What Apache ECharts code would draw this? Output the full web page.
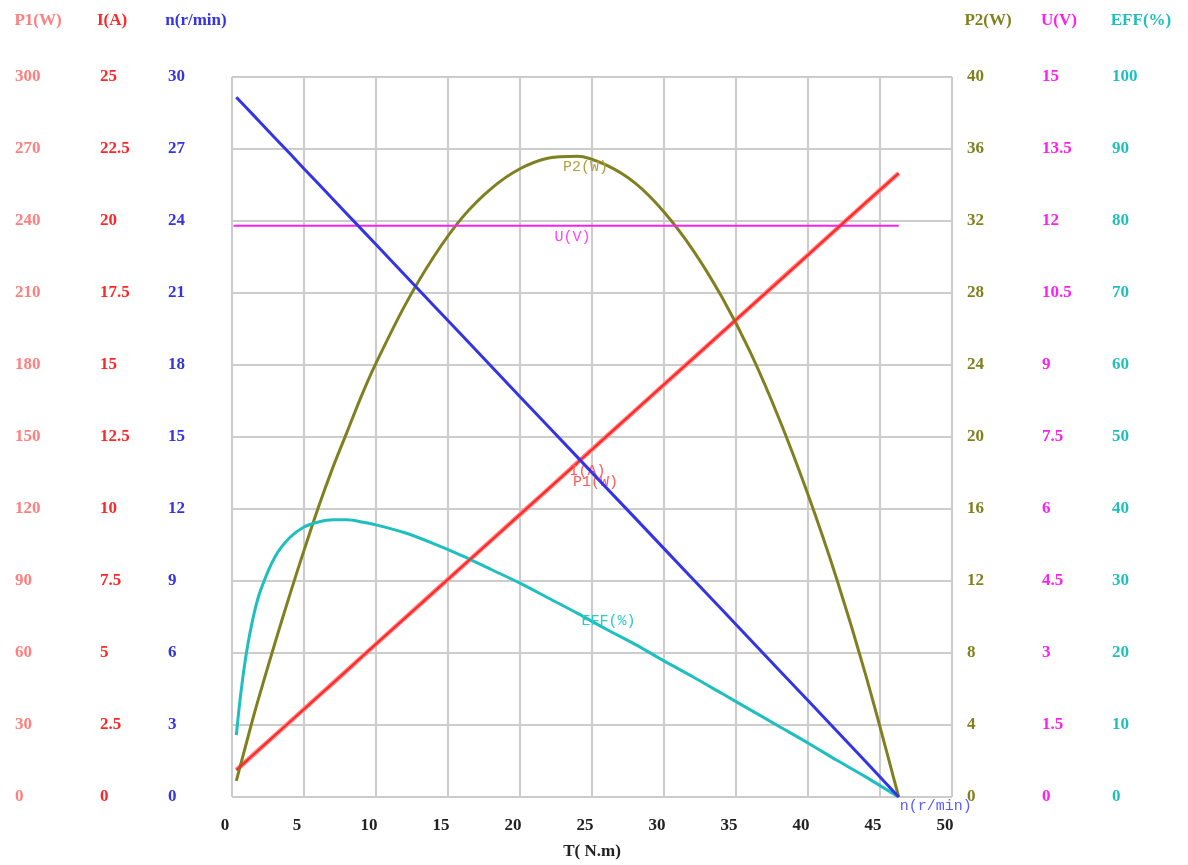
<!DOCTYPE html>
<html>
<head>
<meta charset="utf-8">
<script src="https://cdn.jsdelivr.net/npm/echarts@6/dist/echarts.min.js"></script>
<style>html,body{margin:0;padding:0;background:#fff}#c{width:1188px;height:865px}</style>
</head>
<body>
<div id="c"></div>
<script>
// ---- data ----
const torque = [0.3, 0.6, 1, 1.5, 2, 3, 4, 5, 6, 7, 8, 9, 10, 12, 14, 16, 18, 20, 22, 24, 26, 28, 30, 32, 34, 36, 38, 40, 42, 44, 46.3];
const speedN = [29.16, 28.97, 28.72, 28.40, 28.08, 27.45, 26.82, 26.18, 25.55, 24.92, 24.28, 23.65, 23.02, 21.75, 20.48, 19.22, 17.95, 16.68, 15.42, 14.15, 12.88, 11.62, 10.35, 9.08, 7.82, 6.55, 5.28, 4.02, 2.75, 1.48, 0];
const currentI = [0.94, 1.07, 1.25, 1.48, 1.70, 2.15, 2.60, 3.05, 3.50, 3.95, 4.40, 4.86, 5.31, 6.21, 7.11, 8.01, 8.91, 9.81, 10.71, 11.61, 12.52, 13.42, 14.32, 15.22, 16.12, 17.02, 17.92, 18.82, 19.73, 20.63, 21.66];
const powerP1 = [11.3, 12.8, 15.0, 17.7, 20.4, 25.8, 31.2, 36.6, 42.0, 47.4, 52.8, 58.3, 63.7, 74.5, 85.3, 96.1, 106.9, 117.7, 128.5, 139.4, 150.2, 161.0, 171.8, 182.6, 193.4, 204.2, 215.1, 225.9, 236.7, 247.5, 259.9];
const powerP2 = [0.9, 1.8, 3.0, 4.5, 5.9, 8.6, 11.2, 13.7, 16.1, 18.3, 20.3, 22.3, 24.1, 27.3, 30.0, 32.2, 33.8, 34.9, 35.5, 35.6, 35.1, 34.1, 32.5, 30.4, 27.8, 24.7, 21.0, 16.8, 12.1, 6.8, 0];
const efficiency = [8.6, 14.2, 20.0, 25.2, 28.8, 33.4, 36.0, 37.5, 38.2, 38.5, 38.5, 38.2, 37.8, 36.7, 35.2, 33.5, 31.6, 29.7, 27.6, 25.5, 23.3, 21.2, 18.9, 16.7, 14.4, 12.1, 9.8, 7.5, 5.1, 2.8, 0];
const voltageTorque = [0.1, 46.3];
const voltageU = [11.9, 11.9];

const xTicks = {min: 0, max: 50, interval: 5};
const axisNames = ['P1(W)', 'I(A)', 'n(r/min)', 'P2(W)', 'U(V)', 'EFF(%)'];
const axisMax = [300, 25, 30, 40, 15, 100];
const xName = 'T( N.m)';

// ---- styling ----
const C = {
  p1: '#ff7f7f', i: '#ff2626', n: '#3434e6', p2: '#808020', u: '#ff20f0', eff: '#1fbfbf'
};
const colors = [C.p1, C.i, C.n, C.p2, C.u, C.eff];
const positions = ['left', 'left', 'left', 'right', 'right', 'right'];
const offsets = [194, 120, 36, 36, 107, 189];
const margins = [23, 12, 28, -21, -17, -29];
const tickFont = 'Liberation Serif';

const yAxes = axisNames.map((nm, k) => ({
  type: 'value',
  position: positions[k],
  offset: offsets[k],
  min: 0, max: axisMax[k], interval: axisMax[k] / 10,
  name: nm,
  nameLocation: 'end',
  nameGap: 48,
  nameTextStyle: {color: colors[k], fontFamily: tickFont, fontSize: 17, fontWeight: 'bold'},
  axisLine: {show: false, onZero: false}, axisTick: {show: false},
  axisLabel: {color: colors[k], fontFamily: tickFont, fontSize: 17, fontWeight: 'bold',
    align: 'left', margin: margins[k], padding: [0, 0, 8, 0]},
  splitLine: {show: k === 2, lineStyle: {color: '#cccccc', width: 2}}
}));

function pairs(xs, ys) { return xs.map((x, i) => [x, ys[i]]); }
function tag(text, coord, color, off) {
  return {
    symbol: 'circle', symbolSize: 1, itemStyle: {color: 'rgba(0,0,0,0)'},
    label: {show: true, position: 'inside', offset: off, formatter: text, color: color,
      fontFamily: 'Liberation Mono', fontSize: 15},
    data: [{coord: coord}]
  };
}
const lab = 19; // label data index (T=24)
const labE = 20; // T=26

const chart = echarts.init(document.getElementById('c'), null, {renderer: 'canvas'});
chart.setOption({
  animation: false,
  backgroundColor: '#ffffff',
  grid: {left: 232, right: 236, top: 77, bottom: 68, containLabel: false},
  xAxis: {
    type: 'value', min: xTicks.min, max: xTicks.max, interval: xTicks.interval,
    name: xName, nameLocation: 'middle', nameGap: 46,
    nameTextStyle: {color: '#222', fontFamily: tickFont, fontSize: 17, fontWeight: 'bold'},
    axisLine: {show: false, onZero: false}, axisTick: {show: false},
    axisLabel: {color: '#222', fontFamily: tickFont, fontSize: 17, fontWeight: 'bold', margin: 20, padding: [0, 14, 0, 0]},
    splitLine: {show: true, lineStyle: {color: '#cccccc', width: 2}}
  },
  yAxis: yAxes,
  series: [
    {name: 'P1(W)', type: 'line', yAxisIndex: 0, data: pairs(torque, powerP1), showSymbol: false,
      lineStyle: {color: C.p1, width: 4.5}, z: 3,
      markPoint: tag('P1(W)', [torque[lab], powerP1[lab]], '#ff5a5a', [18, 20])},
    {name: 'I(A)', type: 'line', yAxisIndex: 1, data: pairs(torque, currentI), showSymbol: false,
      lineStyle: {color: C.i, width: 2}, z: 4,
      markPoint: tag('I(A)', [torque[lab], currentI[lab]], '#ff5a5a', [10, 8])},
    {name: 'n(r/min)', type: 'line', yAxisIndex: 2, data: pairs(torque, speedN), showSymbol: false,
      lineStyle: {color: C.n, width: 3}, z: 5,
      markPoint: tag('n(r/min)', [torque[torque.length - 1], speedN[speedN.length - 1]], '#5a5aff', [37, 9])},
    {name: 'P2(W)', type: 'line', yAxisIndex: 3, data: pairs(torque, powerP2), showSymbol: false, smooth: 0.3,
      lineStyle: {color: C.p2, width: 3}, z: 3,
      markPoint: tag('P2(W)', [torque[lab], powerP2[lab]], '#b0a040', [8, 11])},
    {name: 'U(V)', type: 'line', yAxisIndex: 4, data: pairs(voltageTorque, voltageU), showSymbol: false,
      lineStyle: {color: C.u, width: 2}, z: 3,
      markPoint: {
        symbol: 'circle', symbolSize: 1, itemStyle: {color: 'rgba(0,0,0,0)'},
        label: {show: true, position: 'inside', offset: [-5, 11], formatter: 'U(V)', color: '#ff40ff',
          fontFamily: 'Liberation Mono', fontSize: 15},
        data: [{coord: [torque[lab], voltageU[0]]}]
      }},
    {name: 'EFF(%)', type: 'line', yAxisIndex: 5, data: pairs(torque, efficiency), showSymbol: false, smooth: 0.3,
      lineStyle: {color: C.eff, width: 3}, z: 3,
      markPoint: tag('EFF(%)', [torque[labE], efficiency[labE]], '#30c8c8', [2, -8])}
  ]
});
</script>
</body>
</html>
